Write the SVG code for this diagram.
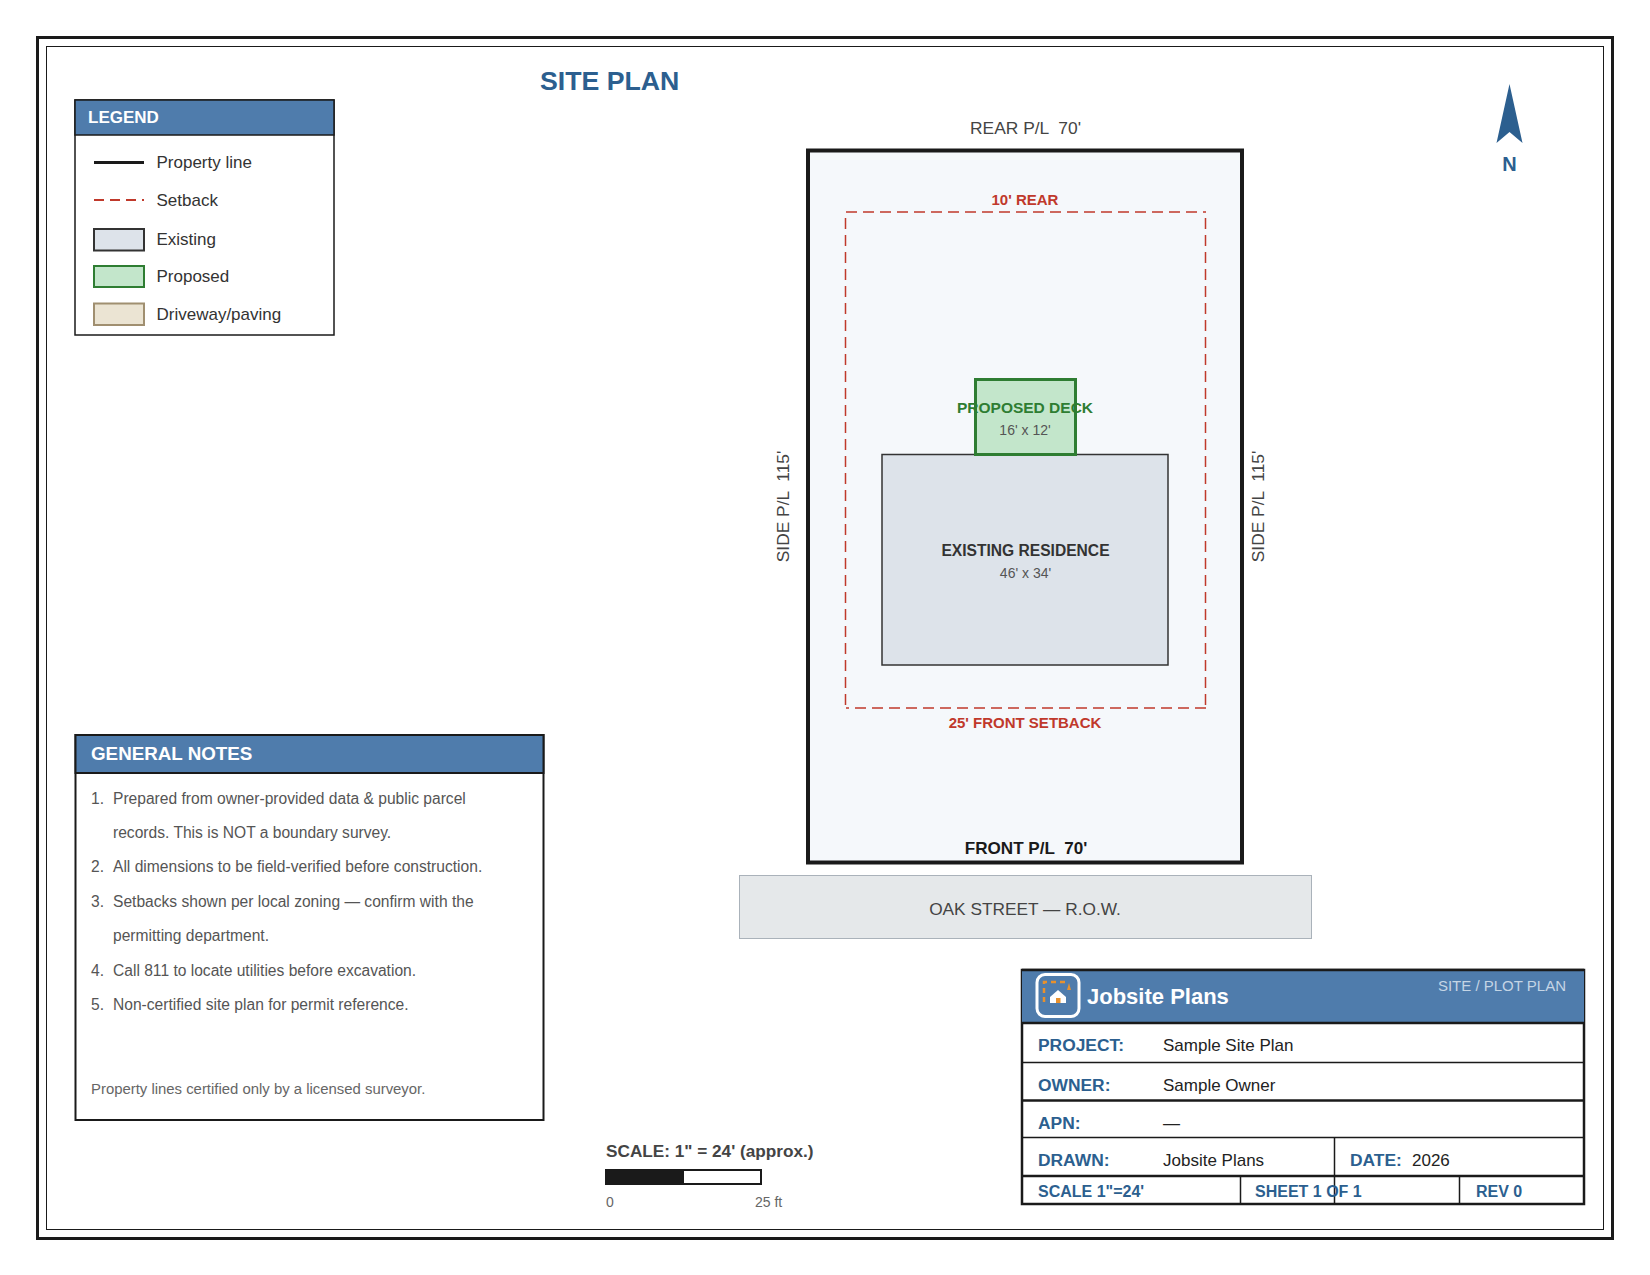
<svg xmlns="http://www.w3.org/2000/svg" width="1650" height="1275" viewBox="0 0 1650 1275">
<style>
text{font-family:"Liberation Sans",Arial,sans-serif}
.b{font-weight:bold}
.m{text-anchor:middle}
.hd{fill:#4f7cac}
.ln{stroke:#1a1a1a;fill:none}
.leg{font-size:17px;fill:#333}
.note{font-size:15.6px;fill:#555}
.lab{font-size:17.4px;font-weight:bold;fill:#2c5f8f}
.val{font-size:17px;fill:#222}
.lab2{font-size:16px;font-weight:bold;fill:#2c5f8f}
.pl{font-size:17.4px;fill:#444}
.red{font-size:15px;font-weight:bold;fill:#c0392b}
.sub{font-size:14px;fill:#555}
</style>
<rect width="1650" height="1275" fill="#fff"/>
<g id="frame">
<rect x="37.5" y="37.5" width="1575" height="1201" fill="none" stroke="#1a1a1a" stroke-width="3"/>
<rect x="46.5" y="46.5" width="1557" height="1183" fill="none" stroke="#1a1a1a" stroke-width="1"/>
</g>
<text id="title" x="540" y="90" class="b" font-size="26.7" fill="#2c5f8f">SITE PLAN</text>
<g id="legend">
<rect x="75" y="100" width="259" height="235" fill="#fff" stroke="#1a1a1a" stroke-width="1.5"/>
<rect x="75" y="100" width="259" height="35" class="hd" stroke="#1a1a1a" stroke-width="1.5"/>
<text x="88" y="123" class="b" font-size="17" fill="#fff">LEGEND</text>
<line x1="94" y1="162.500" x2="144" y2="162.500" stroke="#1a1a1a" stroke-width="3"/>
<text x="156.500" y="168" class="leg">Property line</text>
<line x1="94" y1="200" x2="144" y2="200" stroke="#c0392b" stroke-width="2" stroke-dasharray="10,6"/>
<text x="156.500" y="206" class="leg">Setback</text>
<rect x="94" y="229" width="50" height="21.500" fill="#dde3ea" stroke="#333" stroke-width="2"/>
<text x="156.500" y="245" class="leg">Existing</text>
<rect x="94" y="266" width="50" height="21" fill="#c3e6cb" stroke="#2e7d32" stroke-width="2"/>
<text x="156.500" y="282" class="leg">Proposed</text>
<rect x="94" y="303.500" width="50" height="21.500" fill="#ebe4d3" stroke="#a08f70" stroke-width="2"/>
<text x="156.500" y="320" class="leg">Driveway/paving</text>
</g>
<g id="property">
<rect x="808" y="150.500" width="434" height="712" fill="#f5f8fb" stroke="#1a1a1a" stroke-width="4"/>
<path d="M846 212H1206M1205.500 218V708M1206 708H846M845.500 218V708" fill="none" stroke="#c0392b" stroke-width="1.500" stroke-dasharray="11,6"/>
</g>
<text id="rear-pl" x="1025.500" y="134" class="m pl" xml:space="preserve">REAR P/L  70'</text>
<text id="rear-setback" x="1025" y="205" class="m red">10' REAR</text>
<text id="front-setback" x="1025" y="728" class="m red">25' FRONT SETBACK</text>
<text id="front-pl" x="1026" y="854" class="m b" font-size="17.1" fill="#1a1a1a" xml:space="preserve">FRONT P/L  70'</text>
<text id="side-left" transform="translate(789,506.500) rotate(-90)" class="m pl" xml:space="preserve">SIDE P/L  115'</text>
<text id="side-right" transform="translate(1264,506.500) rotate(-90)" class="m pl" xml:space="preserve">SIDE P/L  115'</text>
<g id="residence">
<rect x="882" y="454.500" width="286" height="210.500" fill="#dde3ea" stroke="#333" stroke-width="1.500"/>
<text x="1025.500" y="556" class="m b" font-size="15.6" fill="#333">EXISTING RESIDENCE</text>
<text x="1025.500" y="578" class="m sub">46' x 34'</text>
</g>
<g id="deck">
<rect x="975.500" y="379.500" width="100" height="75" fill="#c3e6cb" stroke="#2e7d32" stroke-width="3"/>
<text x="1025" y="413" class="m b" font-size="15.5" fill="#2e7d32">PROPOSED DECK</text>
<text x="1025" y="435" class="m sub">16' x 12'</text>
</g>
<g id="street">
<rect x="739.500" y="875.500" width="572" height="63" fill="#e5e8ea" stroke="#aab2ba" stroke-width="1"/>
<text x="1025" y="915" class="m" font-size="17.3" fill="#444">OAK STREET — R.O.W.</text>
</g>
<g id="north">
<polygon points="1509.500,84 1522.500,143 1509.500,132 1496.500,143" fill="#2c5f8f"/>
<text x="1509.500" y="171" class="m b" font-size="20" fill="#2c5f8f">N</text>
</g>
<g id="notes">
<rect x="75.500" y="735" width="468" height="385" fill="#fff" stroke="#1a1a1a" stroke-width="2"/>
<rect x="75.500" y="735" width="468" height="38" class="hd" stroke="#1a1a1a" stroke-width="2"/>
<text x="91" y="760" class="b" font-size="18.8" fill="#fff">GENERAL NOTES</text>
<text x="91" y="804" class="note">1.</text><text x="113" y="804" class="note">Prepared from owner-provided data &amp; public parcel</text>
<text x="113" y="838" class="note">records. This is NOT a boundary survey.</text>
<text x="91" y="872" class="note">2.</text><text x="113" y="872" class="note">All dimensions to be field-verified before construction.</text>
<text x="91" y="907" class="note">3.</text><text x="113" y="907" class="note">Setbacks shown per local zoning — confirm with the</text>
<text x="113" y="941" class="note">permitting department.</text>
<text x="91" y="976" class="note">4.</text><text x="113" y="976" class="note">Call 811 to locate utilities before excavation.</text>
<text x="91" y="1010" class="note">5.</text><text x="113" y="1010" class="note">Non-certified site plan for permit reference.</text>
<text x="91" y="1094" font-size="14.900" fill="#666">Property lines certified only by a licensed surveyor.</text>
</g>
<g id="scale">
<text x="606" y="1157" class="b" font-size="17.2" fill="#444">SCALE: 1" = 24' (approx.)</text>
<rect x="606" y="1170" width="155" height="14" fill="#fff" stroke="#1a1a1a" stroke-width="2"/>
<rect x="606" y="1170" width="78" height="14" fill="#1a1a1a"/>
<text x="606" y="1207" font-size="14" fill="#666">0</text>
<text x="755" y="1207" font-size="14" fill="#666">25 ft</text>
</g>
<g id="titleblock">
<rect x="1022" y="970" width="562" height="234" fill="#fff" stroke="#1a1a1a" stroke-width="2.500"/>
<rect x="1022" y="970" width="562" height="53" class="hd"/>
<g class="ln">
<path d="M1022 970H1584" stroke-width="2.500"/>
<path d="M1022 1023H1584" stroke-width="2.500"/>
<path d="M1022 1062.500H1584" stroke-width="1.500"/>
<path d="M1022 1100.500H1584" stroke-width="2.500"/>
<path d="M1022 1137.500H1584" stroke-width="1.500"/>
<path d="M1022 1176H1584" stroke-width="2.500"/>
<path d="M1336.500 1137.500V1204" stroke-width="1.500" transform="translate(-2 0)"/>
<path d="M1240.500 1176V1204" stroke-width="1.500"/>
<path d="M1459.500 1176V1204" stroke-width="1.500"/>
</g>
<rect x="1037" y="974.500" width="42" height="42" rx="8" fill="none" stroke="#fff" stroke-width="3"/>
<path d="M1044 1002V982H1065" fill="none" stroke="#e8912d" stroke-width="2.500" stroke-dasharray="5,4"/>
<polygon points="1058,990 1066,997 1066,1003 1050,1003 1050,997" fill="#fff"/>
<rect x="1056" y="998" width="4.500" height="5" fill="#e8912d"/>
<polygon points="1069,983 1071,990 1067,990" fill="#e8912d"/>
<text x="1087" y="1004" class="b" font-size="22" fill="#fff">Jobsite Plans</text>
<text x="1566" y="991" text-anchor="end" font-size="15" fill="#c5d5e5">SITE / PLOT PLAN</text>
<text x="1038" y="1051" class="lab">PROJECT:</text><text x="1163" y="1051" class="val">Sample Site Plan</text>
<text x="1038" y="1091" class="lab">OWNER:</text><text x="1163" y="1091" class="val">Sample Owner</text>
<text x="1038" y="1129" class="lab">APN:</text><text x="1163" y="1129" class="val">—</text>
<text x="1038" y="1166" class="lab">DRAWN:</text><text x="1163" y="1166" class="val">Jobsite Plans</text>
<text x="1350" y="1166" class="lab">DATE:</text><text x="1412" y="1166" class="val">2026</text>
<text x="1038" y="1197" class="lab2">SCALE 1"=24'</text>
<text x="1255" y="1197" class="lab2">SHEET 1 OF 1</text>
<text x="1476" y="1197" class="lab2">REV 0</text>
</g>
</svg>
